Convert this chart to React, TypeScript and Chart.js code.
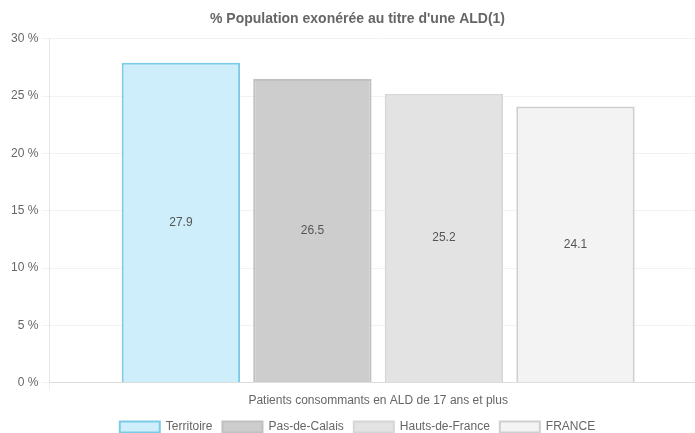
import React, { useEffect, useRef } from "react";
import { Chart, registerables } from "chart.js";

Chart.register(...registerables);

const categories = ["Patients consommants en ALD de 17 ans et plus"];
const seriesNames = ["Territoire", "Pas-de-Calais", "Hauts-de-France", "FRANCE"];
const seriesValues = [27.9, 26.5, 25.2, 24.1];
const fillColors = ["#cdeefa", "#cdcdcd", "#e3e3e3", "#f3f3f3"];
const borderColors = ["#7ccbe6", "#c0c0c0", "#d6d6d6", "#cfcfcf"];
const yTicks = [0, 5, 10, 15, 20, 25, 30];
const title = "% Population exonérée au titre d'une ALD(1)";

const FONT = "'Liberation Sans', Arial, sans-serif";

const centerLabels = {
  id: "centerLabels",
  afterDatasetsDraw(chart: any) {
    const ctx = chart.ctx;
    ctx.save();
    ctx.font = "12px " + FONT;
    ctx.fillStyle = "#555";
    ctx.textAlign = "center";
    ctx.textBaseline = "middle";
    chart.data.datasets.forEach((ds: any, i: number) => {
      const meta = chart.getDatasetMeta(i);
      meta.data.forEach((bar: any, j: number) => {
        const y = (bar.y + bar.base) / 2;
        ctx.fillText(String(ds.data[j]), bar.x, y);
      });
    });
    ctx.restore();
  },
};

export default function App() {
  const ref = useRef<HTMLCanvasElement>(null);
  useEffect(() => {
    document.body.style.overflow = "hidden";
    const chart = new Chart(ref.current!, {
      type: "bar",
      data: {
        labels: categories,
        datasets: seriesNames.map((name, i) => ({
          label: name,
          data: [seriesValues[i]],
          backgroundColor: fillColors[i],
          borderColor: borderColors[i],
          borderWidth: 2,
        })),
      },
      options: {
        animation: false,
        responsive: false,
        layout: { padding: { right: 9, left: 8 } },
        plugins: {
          title: {
            display: true,
            text: title,
            color: "#666",
            font: { family: FONT, size: 14, weight: "bold" },
            padding: { top: 11, bottom: 11 },
          },
          legend: {
            position: "bottom",
            labels: {
              color: "#666",
              boxWidth: 40,
              boxHeight: 11,
              font: { family: FONT, size: 12 },
              padding: 10,
            },
          },
          tooltip: { enabled: false },
        },
        scales: {
          x: {
            grid: { color: "rgba(0,0,0,0.06)", drawOnChartArea: false },
            border: { color: "#ddd" },
            ticks: { color: "#666", font: { family: FONT, size: 12 } },
          },
          y: {
            min: 0,
            max: 30,
            afterBuildTicks: (axis: any) => {
              axis.ticks = yTicks.map((v) => ({ value: v }));
            },
            grid: { color: "rgba(0,0,0,0.05)" },
            border: { color: "#e6e6e6" },
            ticks: {
              color: "#666",
              font: { family: FONT, size: 12 },
              callback: (v: any) => v + " %",
            },
          },
        },
      },
      plugins: [centerLabels],
    });
    return () => chart.destroy();
  }, []);
  return (
    <div style={{ position: "fixed", left: 0, top: 0, width: 716, height: 433, overflow: "hidden", background: "#fff" }}>
      <canvas ref={ref} width={716} height={443} />
    </div>
  );
}
